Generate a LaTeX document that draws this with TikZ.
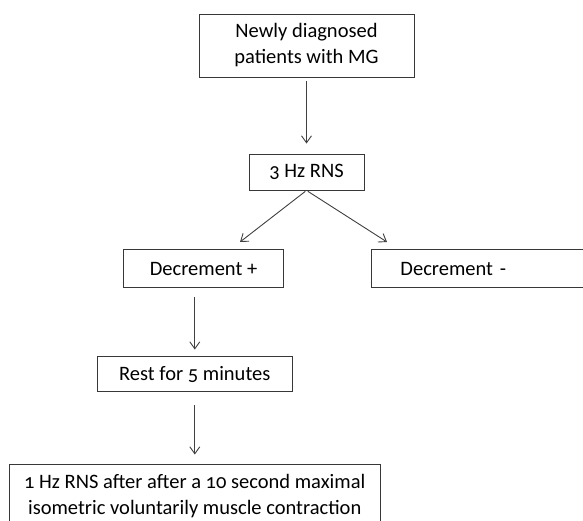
\documentclass[tikz,border=0pt]{standalone}
\usepackage{fontspec}
\setmainfont{Carlito}[Numbers=OldStyle]
\usetikzlibrary{arrows.meta}
\begin{document}
\begin{tikzpicture}[x=1pt,y=-1pt,
  box/.style={draw=black!78, line width=0.9pt, text=black, inner sep=0pt, align=center, font=\fontsize{20.5}{26}\selectfont},
  arr/.style={draw=black!75, line width=0.9pt, -{Straight Barb[length=7pt,width=10pt,line width=0.9pt]}}]
\useasboundingbox (0,0) rectangle (583,521);
\clip (0,0) rectangle (583,521);
\node[box, minimum width=215pt, minimum height=63pt] (a) at (306.5,45.5) {Newly diagnosed\\patients with MG};
\node[box, minimum width=115pt, minimum height=36pt] (b) at (306.5,172) {3 Hz RNS};
\node[box, minimum width=160.4pt, minimum height=38.4pt] (c) at (203.5,268.5) {Decrement +};
\node[box, anchor=west, minimum height=38.4pt, text width=200pt, align=left, inner xsep=29.3pt] (d) at (370.7,268.5) {Decrement -};
\node[box, minimum width=194.3pt, minimum height=34.6pt] (e) at (194.8,374) {Rest for 5 minutes};
\node[box, minimum width=370.7pt, minimum height=63pt] (f) at (194.7,495.8) {1 Hz RNS after after a 10 second maximal\\isometric voluntarily muscle contraction};
\coordinate (cL) at (240,242);
\coordinate (cR) at (387,242);
\draw[arr, shorten <=4pt, shorten >=10pt] (a.south) -- (b.north);
\draw[arr, shorten <=1.5pt] (b.south) -- (cL);
\draw[arr, shorten <=1.5pt] (b.south) -- (cR);
\draw[arr, shorten <=9pt, shorten >=6.7pt] (e.north |- c.south) -- (e.north);
\draw[arr, shorten <=13.7pt, shorten >=9.3pt] (e.south) -- (e.south |- f.north);
\end{tikzpicture}
\end{document}
